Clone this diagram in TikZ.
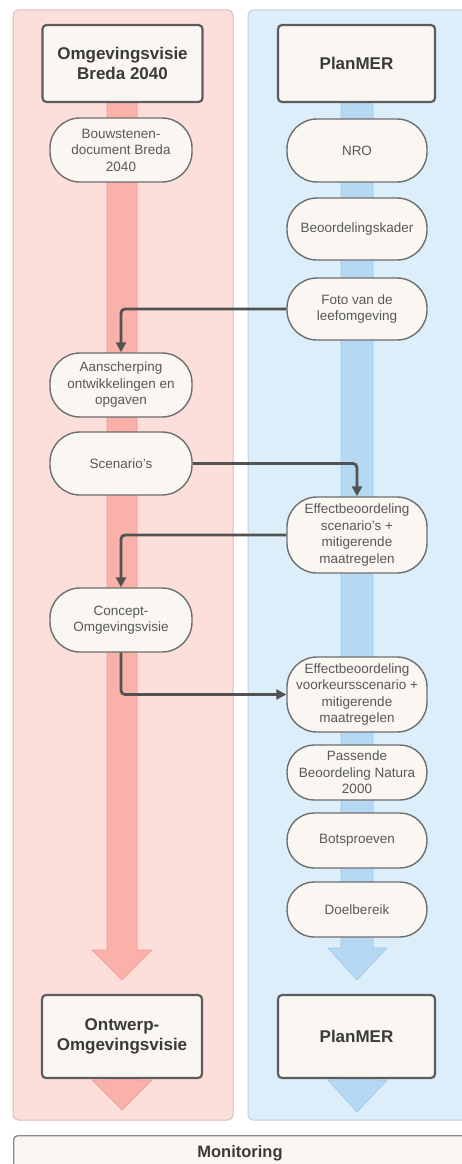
\documentclass[tikz,border=0pt]{standalone}
\usepackage{fontspec}
\setmainfont{Liberation Sans}
\usetikzlibrary{arrows.meta}
\definecolor{lpanel}{HTML}{FCDFDA}
\definecolor{lpanelborder}{HTML}{D8BDB8}
\definecolor{lbar}{HTML}{F9B1A9}
\definecolor{lbarborder}{HTML}{EE9C93}
\definecolor{rpanel}{HTML}{DDEEFB}
\definecolor{rpanelborder}{HTML}{BFD0DE}
\definecolor{rbar}{HTML}{B5D9F3}
\definecolor{rbarborder}{HTML}{9CC7E8}
\definecolor{nodefill}{HTML}{FAF7F2}
\definecolor{titleborder}{HTML}{5C5C5C}
\definecolor{pillborder}{HTML}{6E6E6E}
\definecolor{titletext}{HTML}{3A3A3A}
\definecolor{smalltext}{HTML}{585858}
\definecolor{connector}{HTML}{525252}
\begin{document}
\begin{tikzpicture}[x=1pt,y=-1pt,
  titlebox/.style={draw=titleborder, line width=2.2pt, fill=nodefill, rounded corners=4pt,
    minimum width=160pt, minimum height=77pt, inner sep=0pt, align=center,
    font=\fontsize{17}{19.5}\selectfont\bfseries, text=titletext},
  pill/.style={draw=pillborder, line width=1.4pt, fill=nodefill, rounded corners=30pt,
    minimum width=140pt, inner sep=0pt, align=center,
    font=\fontsize{13.5}{16.5}\selectfont, text=smalltext},
  smallpill/.style={pill, rounded corners=27pt, minimum height=55pt},
  conn/.style={draw=connector, line width=2.8pt, rounded corners=4pt,
    -{Triangle[length=10pt,width=10pt]}},
  panelL/.style={fill=lpanel, draw=lpanelborder, line width=1pt, rounded corners=5pt},
  panelR/.style={fill=rpanel, draw=rpanelborder, line width=1pt, rounded corners=5pt},
  barL/.style={fill=lbar, draw=lbarborder, line width=0.6pt},
  barR/.style={fill=rbar, draw=rbarborder, line width=0.6pt}]
\clip (0,0) rectangle (462,1164);
\fill[white] (0,0) rectangle (462,1164);
% panels
\draw[panelL] (13,10) rectangle (233,1120);
\draw[panelR] (248,10) rectangle (475,1120);
% flow bars
\draw[barL] (107,100) -- (107,950) -- (92,950) -- (122,980) -- (152,950) -- (137,950) -- (137,100) -- cycle;
\draw[barR] (341,100) -- (341,948) -- (328,948) -- (357,980) -- (387,948) -- (373,948) -- (373,100) -- cycle;
\draw[barL] (107,1070) -- (107,1080) -- (92,1080) -- (122,1110) -- (152,1080) -- (137,1080) -- (137,1070) -- cycle;
\draw[barR] (341,1070) -- (341,1080) -- (328,1080) -- (357,1112) -- (387,1080) -- (373,1080) -- (373,1070) -- cycle;
% left column
\node[titlebox] (omg) at (122.5,63.5) {Omgevingsvisie\\Breda 2040};
\node[pill, minimum width=142pt, minimum height=64pt] (bouw) at (121,150) {Bouwstenen-\\document Breda\\2040};
\node[pill, minimum width=142pt, minimum height=64pt] (aan) at (121,385) {Aanscherping\\ontwikkelingen en\\opgaven};
\node[pill, minimum width=142pt, minimum height=63pt] (scen) at (121,463.5) {Scenario's};
\node[pill, minimum width=142pt, minimum height=64pt] (conc) at (121,620) {Concept-\\Omgevingsvisie};
\node[titlebox, minimum height=83pt] (ontw) at (122,1036.5) {Ontwerp-\\Omgevingsvisie};
% right column
\node[titlebox, minimum width=157pt] (plan) at (356.5,63.5) {PlanMER};
\node[pill, minimum height=63pt] (nro) at (357,150.5) {NRO};
\node[pill, minimum height=62pt] (beo) at (357,229) {Beoordelingskader};
\node[pill, minimum height=62pt] (foto) at (357,309) {Foto van de\\leefomgeving};
\node[pill, minimum height=76pt] (eff1) at (357,535) {Effectbeoordeling\\scenario's +\\mitigerende\\maatregelen};
\node[pill, minimum height=75pt] (eff2) at (357,694.5) {Effectbeoordeling\\voorkeursscenario +\\mitigerende\\maatregelen};
\node[smallpill] (pas) at (357,772.5) {Passende\\Beoordeling Natura\\2000};
\node[smallpill] (bots) at (357,840.5) {Botsproeven};
\node[smallpill] (doel) at (357,909.5) {Doelbereik};
\node[titlebox, minimum width=157pt, minimum height=83pt] (planb) at (356.5,1036.5) {PlanMER};
% monitoring
\node[draw=pillborder!80, line width=1.4pt, fill=nodefill, rounded corners=4pt,
  minimum width=470pt, minimum height=60pt, anchor=north west, inner sep=0pt] (mon) at (13,1135) {};
\node[font=\fontsize{16.5}{19}\selectfont\bfseries, text=titletext] (montext) at (240,1153) {Monitoring};
% connectors
\draw[conn] (foto.west) -| (aan.north);
\draw[conn] (scen.east) -| (eff1.north);
\draw[conn] (eff1.west) -| (conc.north);
\draw[conn] (conc.south) |- (eff2.west);
\end{tikzpicture}
\end{document}
